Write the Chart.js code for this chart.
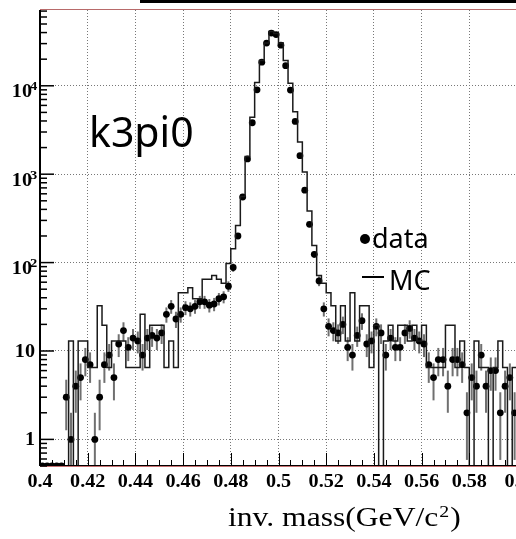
<!DOCTYPE html>
<html>
<head>
<meta charset="utf-8">
<script src="https://cdn.jsdelivr.net/npm/chart.js@4.4.0/dist/chart.umd.min.js"></script>
<style>
  html, body { margin: 0; padding: 0; background: #fff; overflow: hidden; }
  #wrap { width: 540px; height: 539px; }
</style>
</head>
<body>
<div id="wrap"><canvas id="massChart" width="540" height="539"></canvas></div>
<script>
// histogram binning: 100 bins of 2 MeV between 0.4 and 0.6 GeV
const xMin = 0.4, xMax = 0.6, binWidth = 0.002
const yMin = 0.5, yMax = 72000

// measured counts per bin
const dataCounts = [
  0, 0, 0, 0, 0, 3, 1, 4, 5, 8,
  7, 1, 3, 7, 9, 5, 12, 17, 11, 14,
  13, 9, 14, 15, 14, 16, 26, 32, 23, 26,
  31, 30, 32, 36, 36, 33, 34, 39, 41, 54,
  88, 200, 552, 1490, 3820, 9010, 18500, 30400, 39500, 38000,
  28800, 16900, 8940, 3950, 1620, 660, 271, 124, 62, 30,
  19, 17, 16, 20, 11, 9, 15, 22, 12, 13,
  19, 16, 9, 14, 11, 11, 16, 18, 14, 13,
  12, 7, 5, 8, 8, 4, 8, 8, 7, 2,
  5, 4, 9, 4, 6, 6, 2, 4, 5, 2
]

// simulated (scaled) counts per bin
const mcCounts = [
  0, 0, 0, 0, 0, 0, 13, 0, 13, 13,
  6.5, 6.5, 32.5, 19.5, 6.5, 13, 13, 13, 6.5, 6.5,
  6.5, 26, 6.5, 19.5, 19.5, 19.5, 6.5, 13, 6.5, 45.5,
  45.5, 52, 39, 39, 65, 65, 71.5, 65, 58.5, 97.5,
  143, 262, 560, 1590, 4420, 10900, 19300, 30400, 41100, 39000,
  30400, 19300, 10700, 5100, 2310, 1060, 384, 156, 71.5, 58.5,
  45.5, 32.5, 13, 32.5, 13, 45.5, 13, 32.5, 32.5, 6.5,
  19.5, 0, 13, 19.5, 13, 19.5, 19.5, 13, 19.5, 13,
  19.5, 6.5, 6.5, 6.5, 6.5, 19.5, 19.5, 6.5, 13, 6.5,
  0, 13, 6.5, 6.5, 0, 6.5, 13, 6.5, 0, 6.5
]

const xTickLabels = ['0.4', '0.42', '0.44', '0.46', '0.48', '0.5', '0.52', '0.54', '0.56', '0.58', '0.6']
const yDecades = [1, 10, 100, 1000, 10000]
const yDecadeLabels = [['1', ''], ['10', ''], ['10', '2'], ['10', '3'], ['10', '4']]

const binCenter = i => xMin + (i + 0.5) * binWidth
const isDecade = v => Math.abs(Math.log10(v) - Math.round(Math.log10(v))) < 1e-6

// empty bins sit on the lower edge like ROOT does on a log axis
const dataPoints = dataCounts.map((n, i) => ({ x: binCenter(i), y: n > 0 ? n : yMin }))
const mcPoints = mcCounts.map((n, i) => ({ x: xMin + i * binWidth, y: n > 0 ? n : 0.05 }))
mcPoints.push({ x: xMax, y: mcPoints[mcPoints.length - 1].y })

const serif = '"Liberation Serif", "Times New Roman", serif'
const stretch = 1.12

// text drawn a little wider than the font, the way the axis labels look
function wideText(ctx, text, px, py, sx) {
  ctx.save()
  ctx.translate(px, py)
  ctx.scale(sx, 1)
  ctx.fillText(text, 0, 0)
  ctx.restore()
}

const rootFrame = {
  id: 'rootFrame',
  beforeDatasetsDraw(chart) {
    // sqrt(N) error bars under the markers
    const { ctx, chartArea: a, scales: { x, y } } = chart
    ctx.save()
    ctx.beginPath()
    ctx.rect(a.left, a.top, a.right - a.left, a.bottom - a.top)
    ctx.clip()
    ctx.strokeStyle = '#707070'
    ctx.lineWidth = 2
    dataCounts.forEach((n, i) => {
      if (n <= 0) return
      const err = Math.sqrt(n)
      const px = x.getPixelForValue(binCenter(i))
      const top = y.getPixelForValue(n + err)
      const bot = n - err > 0 ? y.getPixelForValue(n - err) : a.bottom + 2
      ctx.beginPath()
      ctx.moveTo(px, top)
      ctx.lineTo(px, bot)
      ctx.stroke()
    })
    ctx.restore()
  },
  afterDraw(chart) {
    const { ctx, chartArea: a, scales: { x, y } } = chart
    ctx.save()

    // title box edge at the very top
    ctx.fillStyle = '#000'
    ctx.fillRect(140, 0, 400, 3)

    // frame top and bottom
    ctx.lineWidth = 1
    ctx.strokeStyle = '#b86a6a'
    ctx.beginPath(); ctx.moveTo(a.left, a.top - 0.5); ctx.lineTo(a.right, a.top - 0.5); ctx.stroke()
    ctx.strokeStyle = '#000'
    ctx.beginPath(); ctx.moveTo(a.left, a.bottom - 0.5); ctx.lineTo(a.right, a.bottom - 0.5); ctx.stroke()
    ctx.strokeStyle = '#c87070'
    ctx.beginPath(); ctx.moveTo(a.left, a.bottom + 0.5); ctx.lineTo(a.right, a.bottom + 0.5); ctx.stroke()

    // x ticks pointing up into the frame
    ctx.strokeStyle = '#000'
    for (let k = 0; k <= 40; k++) {
      const v = xMin + k * 0.005
      const px = Math.round(x.getPixelForValue(v)) + 0.5
      const len = k % 4 === 0 ? 13 : 6
      ctx.beginPath(); ctx.moveTo(px, a.bottom); ctx.lineTo(px, a.bottom - len); ctx.stroke()
    }

    // x tick labels
    ctx.fillStyle = '#000'
    ctx.font = 'bold 18px ' + serif
    ctx.textAlign = 'center'
    ctx.textBaseline = 'middle'
    xTickLabels.forEach((label, i) => {
      wideText(ctx, label, x.getPixelForValue(xMin + i * 0.02), a.bottom + 16, stretch)
    })

    // left axis with log ticks
    ctx.lineWidth = 2
    ctx.beginPath(); ctx.moveTo(a.left, a.top); ctx.lineTo(a.left, a.bottom); ctx.stroke()
    ctx.lineWidth = 1.5
    for (let e = -1; e <= 4; e++) {
      for (let m = 1; m <= 9; m++) {
        const v = m * Math.pow(10, e)
        if (v < yMin || v > yMax) continue
        const py = y.getPixelForValue(v)
        const len = m === 1 ? 14 : 7
        ctx.beginPath(); ctx.moveTo(a.left, py); ctx.lineTo(a.left + len, py); ctx.stroke()
      }
    }

    // decade labels
    yDecades.forEach((v, i) => {
      const py = y.getPixelForValue(v)
      const [base, sup] = yDecadeLabels[i]
      ctx.font = 'bold 18px ' + serif
      ctx.textAlign = 'right'
      if (!sup) {
        wideText(ctx, base, 35, py + 1, stretch)
      } else {
        wideText(ctx, base, 32, py + 7, stretch)
        ctx.font = 'bold 13px ' + serif
        ctx.textAlign = 'left'
        wideText(ctx, sup, 30, py + 1, stretch)
      }
    })

    // channel name
    ctx.textAlign = 'left'
    ctx.textBaseline = 'alphabetic'
    ctx.font = '41px "Noto Sans", sans-serif'
    ctx.fillText('k3pi0', 89, 147)

    // legend
    ctx.font = '27px "Noto Sans", sans-serif'
    ctx.beginPath(); ctx.arc(365, 239, 5, 0, Math.PI * 2); ctx.fill()
    ctx.fillText('data', 372, 248)
    ctx.lineWidth = 2
    ctx.beginPath(); ctx.moveTo(362, 277); ctx.lineTo(384, 277); ctx.stroke()
    ctx.fillText('MC', 389, 290)

    // axis title
    const tx = 228, ty = 526, sx = 1.17
    ctx.font = '27px ' + serif
    const main = 'inv. mass(GeV/c'
    wideText(ctx, main, tx, ty, sx)
    const w = ctx.measureText(main).width * sx
    ctx.font = '17px ' + serif
    wideText(ctx, '2', tx + w + 1, ty - 9, sx)
    const w2 = ctx.measureText('2').width * sx
    ctx.font = '27px ' + serif
    wideText(ctx, ')', tx + w + w2 + 2, ty, sx)

    ctx.restore()
  }
}

new Chart(document.getElementById('massChart'), {
  type: 'line',
  data: {
    datasets: [
      {
        label: 'MC',
        data: mcPoints,
        stepped: true,
        borderColor: '#1a1a1a',
        borderWidth: 1.5,
        pointRadius: 0,
        fill: false,
        clip: 0
      },
      {
        label: 'data',
        data: dataPoints,
        showLine: false,
        pointRadius: 3.4,
        pointBackgroundColor: '#000',
        pointBorderColor: '#000',
        pointBorderWidth: 0,
        clip: 0
      }
    ]
  },
  plugins: [rootFrame],
  options: {
    responsive: false,
    animation: false,
    devicePixelRatio: 1,
    layout: { padding: { top: 10, right: 23, left: 0, bottom: 0 } },
    plugins: {
      legend: { display: false },
      tooltip: { enabled: false }
    },
    scales: {
      x: {
        type: 'linear',
        min: xMin,
        max: xMax,
        afterFit: s => { s.height = 73 },
        ticks: { stepSize: 0.02, display: false },
        grid: { color: '#777', lineWidth: 1, drawTicks: false },
        border: { display: false, dash: [1, 2] }
      },
      y: {
        type: 'logarithmic',
        min: yMin,
        max: yMax,
        afterFit: s => { s.width = 40 },
        ticks: { display: false },
        grid: {
          color: ctx => isDecade(ctx.tick.value) ? '#777' : 'rgba(0,0,0,0)',
          lineWidth: 1,
          drawTicks: false
        },
        border: { display: false, dash: [1, 2] }
      }
    }
  }
})
</script>
</body>
</html>
